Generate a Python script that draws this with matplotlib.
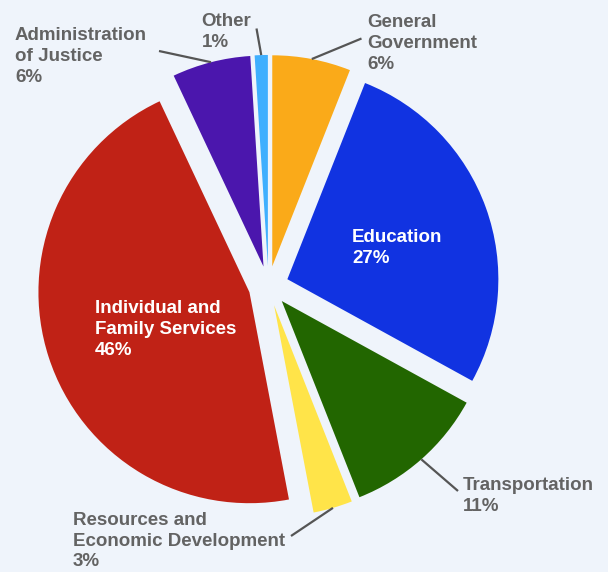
import math
import matplotlib.pyplot as plt

# Spending by function, share of total (%)
categories = ["General\nGovernment", "Education", "Transportation",
              "Resources and\nEconomic Development", "Individual and\nFamily Services",
              "Administration\nof Justice", "Other"]
shares = [6, 27, 11, 3, 46, 6, 1]
colors = ["#FAAA19", "#1133E1", "#226600", "#FFE449", "#C02216", "#4B16AD", "#3FAFFE"]

BG = "#EFF4FB"
GREY = "#636363"

# pie centre and radius in pixels, so labels can be placed in pixels
CX, CY, R = 268.5, 286.0, 211.0
W, H = 608, 572


def px(x, y):
    return ((x - CX) / R, (CY - y) / R)


fig = plt.figure(figsize=(6.08, 5.72), dpi=100, facecolor=BG)
ax = fig.add_axes([0, 0, 1, 1])
ax.set_facecolor(BG)

wedges, _ = ax.pie(shares, colors=colors, startangle=90, counterclock=False,
                   explode=[0.095] * len(shares), radius=1,
                   wedgeprops=dict(linewidth=0))

ax.set_xlim(-CX / R, (W - CX) / R)
ax.set_ylim(-(H - CY) / R, CY / R)
ax.set_aspect("auto")
ax.axis("off")

font = dict(family=["Liberation Sans", "DejaVu Sans"], fontsize=13.5,
            fontweight="bold", linespacing=1.29)


def label(i):
    return f"{categories[i]}\n{shares[i]}%"


# labels inside the two big slices (position = baseline of the last line)
ax.text(*px(352, 262.5), label(1), color="white", ha="left", va="baseline", **font)
ax.text(*px(95, 355), label(4), color="white", ha="left", va="baseline", **font)

# outside labels: (index, baseline of last line, leader line end)
outside = [
    (0, (367.5, 69), (361.5, 38.5)),
    (2, (463, 511), (458, 491)),
    (3, (73, 566.5), (291, 536)),
    (5, (15, 82), (159, 51)),
    (6, (201.5, 47), (256.5, 28.5)),
]

for i, pos, end in outside:
    w = wedges[i]
    mid = math.radians((w.theta1 + w.theta2) / 2)
    cx, cy = w.center
    tip = (cx + w.r * math.cos(mid), cy + w.r * math.sin(mid))
    ex, ey = px(*end)
    ax.plot([tip[0], ex], [tip[1], ey], color="#555555", lw=1.6,
            solid_capstyle="butt")
    ax.text(*px(*pos), label(i), color=GREY, ha="left", va="baseline", **font)

fig.savefig("out.png", dpi=100, facecolor=BG)
